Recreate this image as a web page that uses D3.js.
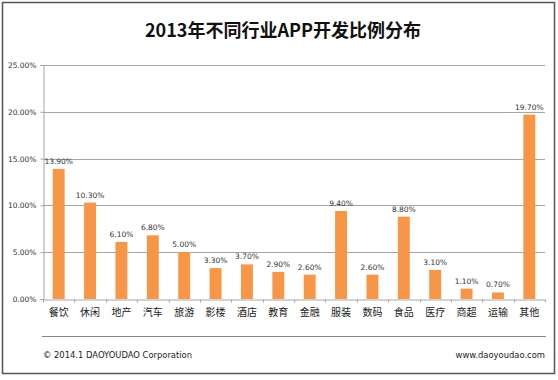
<!DOCTYPE html>
<html><head><meta charset="utf-8">
<script src="https://cdnjs.cloudflare.com/ajax/libs/d3/7.8.5/d3.min.js"></script>
<style>body{margin:0;background:#fff;}svg{display:block;}</style>
</head><body>
<script>
const categories = ["餐饮","休闲","地产","汽车","旅游","影楼","酒店","教育","金融","服装","数码","食品","医疗","商超","运输","其他"];
const values = [13.9,10.3,6.1,6.8,5.0,3.3,3.7,2.9,2.6,9.4,2.6,8.8,3.1,1.1,0.7,19.7];
const yTicks = [0,5,10,15,20,25];
const title = "2013年不同行业APP开发比例分布";
const footerLeft = "© 2014.1 DAOYOUDAO Corporation";
const footerRight = "www.daoyoudao.com";

const W = 558, H = 380;
const svg = d3.select("body").append("svg").attr("width", W).attr("height", H);
svg.append("rect").attr("x",2.5).attr("y",2.5).attr("width",552).attr("height",371)
  .attr("fill","#fff").attr("stroke","#555").attr("stroke-width",1.5);

svg.append("text").attr("x",283).attr("y",37).attr("text-anchor","middle")
  .attr("font-family","'Noto Sans CJK SC', sans-serif").attr("font-weight","bold")
  .attr("font-size",18).attr("fill","#111").text(title);

const pL = 43, pR = 545, pT = 65, pB = 299;
const x = d3.scaleBand().domain(categories).range([pL,pR]).paddingInner(0.62).paddingOuter(0.31);
const y = d3.scaleLinear().domain([0,25]).range([pB,pT]);

// gridlines
svg.append("g").selectAll("line").data(yTicks.filter(d=>d>0)).join("line")
  .attr("x1",pL).attr("x2",pR).attr("y1",d=>Math.round(y(d))+0.5).attr("y2",d=>Math.round(y(d))+0.5)
  .attr("stroke","#a6a6a6").attr("stroke-width",1);

// y axis
const yAxis = d3.axisLeft(y).tickValues(yTicks).tickFormat(d=>d.toFixed(2)+"%").tickSize(3).tickPadding(4);
const gy = svg.append("g").attr("transform",`translate(${pL+0.5},0)`).call(yAxis);
gy.select(".domain").attr("stroke","#a6a6a6");
gy.selectAll(".tick line").attr("stroke","#a6a6a6");
gy.selectAll(".tick text").attr("font-family","'DejaVu Sans', sans-serif").attr("font-size",7.5).attr("fill","#333");

// bars
svg.append("g").selectAll("rect").data(values).join("rect")
  .attr("x",(d,i)=>x(categories[i])).attr("width",x.bandwidth())
  .attr("y",d=>y(d)).attr("height",d=>pB-y(d)).attr("fill","#F79646");

// x axis
const xAxis = d3.axisBottom(x).tickSize(0).tickPadding(9);
const gx = svg.append("g").attr("transform",`translate(0,${pB+0.5})`).call(xAxis);
gx.select(".domain").attr("stroke","#a6a6a6");
gx.selectAll(".tick text").attr("font-family","'Noto Sans CJK SC', sans-serif").attr("font-size",10).attr("fill","#222");
const step = x.step();
const bounds = d3.range(categories.length+1).map(i=>pL + i*step);
gx.selectAll(".bt").data(bounds).join("line").attr("class","bt")
  .attr("x1",d=>Math.round(d)+0.5).attr("x2",d=>Math.round(d)+0.5).attr("y1",0).attr("y2",3)
  .attr("stroke","#a6a6a6");

// data labels
svg.append("g").selectAll("text").data(values).join("text")
  .attr("x",(d,i)=>x(categories[i])+x.bandwidth()/2).attr("y",d=>y(d)-5)
  .attr("text-anchor","middle").attr("font-family","'DejaVu Sans', sans-serif").attr("font-size",7.5)
  .attr("fill","#333").text(d=>d.toFixed(2)+"%");

// footer
svg.append("line").attr("x1",42).attr("x2",546).attr("y1",336.5).attr("y2",336.5).attr("stroke","#888").attr("stroke-width",1.2);
svg.append("text").attr("x",43).attr("y",358).attr("font-family","'DejaVu Sans', sans-serif").attr("font-size",8.4).attr("fill","#222").text(footerLeft);
svg.append("text").attr("x",545).attr("y",358).attr("text-anchor","end").attr("font-family","'DejaVu Sans', sans-serif").attr("font-size",8.4).attr("fill","#222").text(footerRight);
</script>
</body></html>
